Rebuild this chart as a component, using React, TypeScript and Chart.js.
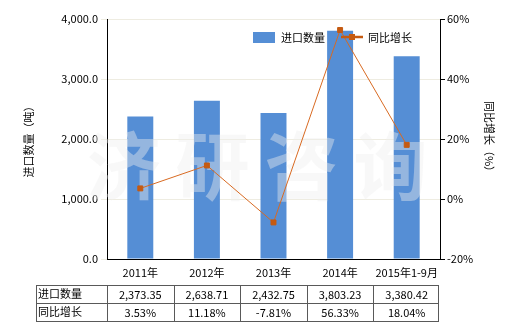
import React, { useEffect, useRef } from "react";
import { Chart, registerables } from "chart.js";

Chart.register(...registerables);

const categories = ["2011年", "2012年", "2013年", "2014年", "2015年1-9月"];
const importQty = [2373.35, 2638.71, 2432.75, 3803.23, 3380.42];
const yoyGrowth = [3.53, 11.18, -7.81, 56.33, 18.04];
const qtyLabels = ["2,373.35", "2,638.71", "2,432.75", "3,803.23", "3,380.42"];
const growthLabels = ["3.53%", "11.18%", "-7.81%", "56.33%", "18.04%"];
const seriesNames = ["进口数量", "同比增长"];
const leftTitle = "进口数量（吨）";
const rightTitle = "同比增长（%）";
const watermark = ["济", "研", "咨", "询"];

const FONT = '"Noto Sans CJK SC", "Noto Sans", sans-serif';
const BAR = "#558ED5";
const LINE = "#D86A22";
const MARK = "#C55A11";

const overlay = {
  id: "overlay",
  afterDatasetDraw(chart: any, args: any) {
    if (args.index !== 0) return;
    const ctx = chart.ctx;
    const x = chart.scales.x;
    ctx.save();
    ctx.fillStyle = "rgba(238,238,238,0.42)";
    ctx.font = `bold 74px ${FONT}`;
    ctx.textAlign = "center";
    ctx.textBaseline = "middle";
    const left = x.left, w = x.right - x.left;
    watermark.forEach((c, i) => {
      ctx.fillText(c, left + w * (0.05 + i * 0.267), 166);
    });
    ctx.restore();
  },
  afterDraw(chart: any) {
    const ctx = chart.ctx;
    const x = chart.scales.x;
    const area = chart.chartArea;
    ctx.save();
    // legend
    ctx.font = `11px ${FONT}`;
    ctx.textBaseline = "middle";
    ctx.textAlign = "left";
    ctx.fillStyle = BAR;
    ctx.fillRect(253, 32, 22, 11);
    ctx.fillStyle = "#000";
    ctx.fillText(seriesNames[0], 281, 38);
    ctx.strokeStyle = MARK;
    ctx.lineWidth = 2.5;
    ctx.beginPath();
    ctx.moveTo(341, 37);
    ctx.lineTo(363, 37);
    ctx.stroke();
    ctx.fillStyle = MARK;
    ctx.fillRect(349, 34, 6, 6);
    ctx.fillStyle = "#000";
    ctx.fillText(seriesNames[1], 368, 38);

    // axis titles
    ctx.font = `11px ${FONT}`;
    ctx.textAlign = "center";
    ctx.save();
    ctx.translate(29, (area.top + area.bottom) / 2);
    ctx.rotate(-Math.PI / 2);
    ctx.fillText(leftTitle, 0, 0);
    ctx.restore();
    ctx.save();
    ctx.translate(489, (area.top + area.bottom) / 2);
    ctx.rotate(Math.PI / 2);
    ctx.fillText(rightTitle, 0, 0);
    ctx.restore();

    // data table
    const tLeft = 36;
    const colW = (x.right - x.left) / categories.length;
    const tRight = x.right - 2;
    const rows = [285, 303, 321];
    ctx.strokeStyle = "#595959";
    ctx.lineWidth = 1;
    ctx.beginPath();
    rows.forEach((ry) => {
      ctx.moveTo(tLeft, ry + 0.5);
      ctx.lineTo(tRight, ry + 0.5);
    });
    const vx = [tLeft, x.left];
    for (let i = 1; i < categories.length; i++) vx.push(x.left + colW * i);
    vx.push(tRight);
    vx.forEach((vv) => {
      ctx.moveTo(Math.round(vv) + 0.5, rows[0]);
      ctx.lineTo(Math.round(vv) + 0.5, rows[2] + 1);
    });
    ctx.stroke();
    ctx.fillStyle = "#000";
    ctx.font = `11px ${FONT}`;
    ctx.textAlign = "left";
    ctx.fillText(seriesNames[0], tLeft + 2, 294);
    ctx.fillText(seriesNames[1], tLeft + 2, 312);
    ctx.textAlign = "center";
    categories.forEach((_, i) => {
      const cx = x.getPixelForValue(i);
      ctx.fillText(qtyLabels[i], cx, 295);
      ctx.fillText(growthLabels[i], cx, 313);
    });
    ctx.restore();
  },
};

export default function App() {
  const ref = useRef<HTMLCanvasElement | null>(null);
  useEffect(() => {
    document.body.style.margin = "0";
    const canvas = ref.current!;
    const chart = new Chart(canvas, {
      type: "bar",
      data: {
        labels: categories,
        datasets: [
          {
            type: "bar",
            label: seriesNames[0],
            data: importQty,
            backgroundColor: BAR,
            yAxisID: "y",
            order: 2,
            barPercentage: 0.39,
            categoryPercentage: 1,
          },
          {
            type: "line",
            label: seriesNames[1],
            data: yoyGrowth,
            borderColor: LINE,
            borderWidth: 1,
            backgroundColor: MARK,
            pointStyle: "rect",
            pointRadius: 3.5,
            pointBorderColor: MARK,
            pointBackgroundColor: MARK,
            yAxisID: "y1",
            order: 1,
            tension: 0,
          },
        ],
      },
      options: {
        responsive: false,
        animation: false,
        layout: { padding: { top: 19, left: 0, right: 0, bottom: 0 } },
        plugins: { legend: { display: false }, tooltip: { enabled: false } },
        scales: {
          x: {
            offset: true,
            grid: { display: false, drawOnChartArea: false, drawTicks: true, tickLength: 4, color: "#000" },
            border: { color: "#000", width: 1 },
            ticks: { color: "#000", font: { family: FONT, size: 11 }, padding: 3, maxRotation: 0 },
            afterFit: (s: any) => { s.height = 71; },
          },
          y: {
            position: "left",
            min: 0,
            max: 4000,
            grid: { color: "#EEECE1", drawTicks: true, tickLength: 6 },
            border: { color: "#000", width: 1 },
            ticks: {
              stepSize: 1000,
              color: "#000",
              font: { family: FONT, size: 11 },
              padding: 3,
              callback: (v: any) => Number(v).toLocaleString("en-US", { minimumFractionDigits: 1, maximumFractionDigits: 1 }),
            },
            afterFit: (s: any) => { s.width = 107; },
          },
          y1: {
            position: "right",
            min: -20,
            max: 60,
            grid: { drawOnChartArea: false, drawTicks: true, tickLength: 5, color: "#000" },
            border: { color: "#000", width: 1 },
            ticks: {
              stepSize: 20,
              color: "#000",
              font: { family: FONT, size: 11 },
              padding: 2,
              callback: (v: any) => `${v}%`,
            },
            afterFit: (s: any) => { s.width = 80; },
          },
        },
      },
      plugins: [overlay],
    });
    return () => chart.destroy();
  }, []);
  return <canvas ref={ref} width={520} height={330} style={{ display: "block" }} />;
}
